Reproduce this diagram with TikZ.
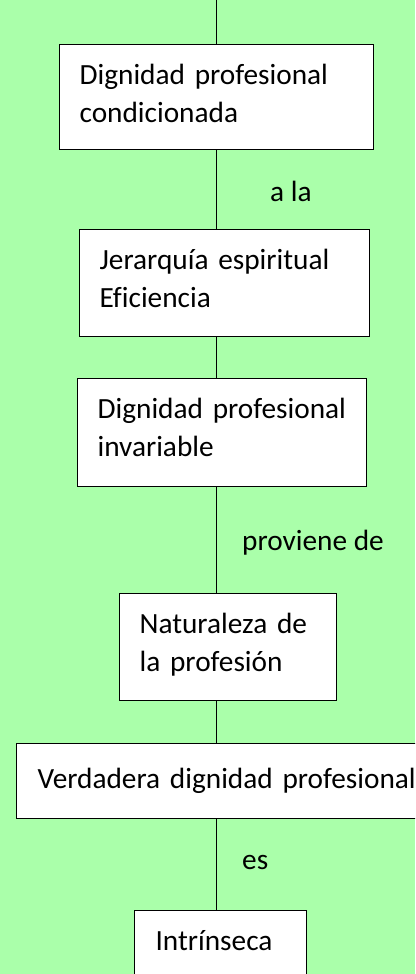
\documentclass[tikz,border=0pt]{standalone}
\usepackage{fontspec}
\setmainfont[Ligatures=NoCommon]{Carlito}
\definecolor{bggreen}{RGB}{170,255,170}
\newcommand{\padend}[1]{\rule[-#1pt]{0pt}{0pt}}
\tikzset{
  box/.style={draw=black, line width=1.2pt, fill=white, anchor=north west,
    inner xsep=20pt, inner ysep=0pt, align=left,
    font=\fontsize{29.3}{38}\selectfont},
  lbl/.style={anchor=west, inner sep=0pt, font=\fontsize{29.3}{38}\selectfont},
  conn/.style={draw=black, line width=1pt}
}
\begin{document}
\begin{tikzpicture}[x=1pt,y=-1pt]
\fill[bggreen] (0,0) rectangle (415,974);
\useasboundingbox (0,0) rectangle (415,974);
\begin{scope}
\clip (0,0) rectangle (415,974);
\coordinate (top) at (216,0);
\node[box, text width=274pt, minimum height=105pt] (b1) at (59,44) {Dignidad profesional\\condicionada\padend{8}};
\node[box, text width=250pt, minimum height=107pt] (b2) at (79,229) {Jerarquía espiritual\\Eficiencia\padend{10}};
\node[box, text width=249pt, minimum height=108pt] (b3) at (77,378) {Dignidad profesional\\invariable\padend{10}};
\node[box, text width=177pt, minimum height=107pt] (b4) at (119,593) {Naturaleza de\\la profesión\padend{10}};
\node[box, inner xsep=21pt, text width=390pt, minimum height=75pt] (b5) at (16,743) {Verdadera dignidad profesional\padend{5}};
\node[box, inner xsep=21pt, text width=130pt, minimum height=70pt] (b6) at (134,910) {Intrínseca\padend{10}};
\node[lbl] (l1) at (270,191) {a la};
\node[lbl] (l2) at (242,543) {proviene de};
\node[lbl] (l3) at (242,862) {es};
\draw[conn] (top) -- (b1.north -| top);
\draw[conn] (b1.south -| top) -- (b2.north -| top);
\draw[conn] (b2.south -| top) -- (b3.north -| top);
\draw[conn] (b3.south -| top) -- (b4.north -| top);
\draw[conn] (b4.south -| top) -- (b5.north -| top);
\draw[conn] (b5.south -| top) -- (b6.north -| top);
\end{scope}
\end{tikzpicture}
\end{document}
